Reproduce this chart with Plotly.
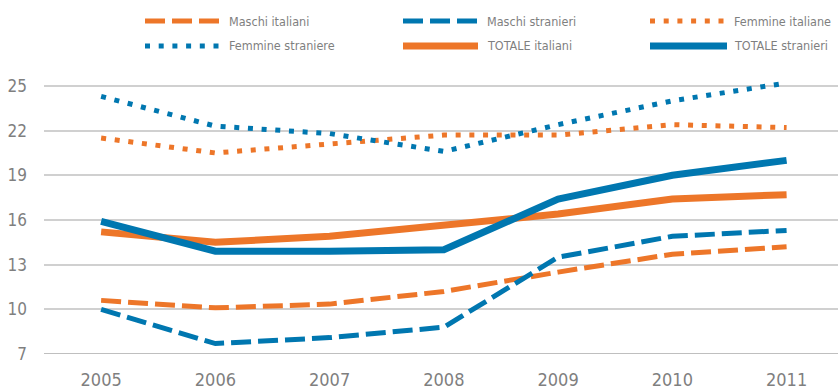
import plotly.graph_objects as go

# Age data by year and group
years = [2005, 2006, 2007, 2008, 2009, 2010, 2011]
maschi_italiani = [10.6, 10.1, 10.35, 11.2, 12.5, 13.7, 14.2]
maschi_stranieri = [10.0, 7.7, 8.1, 8.8, 13.5, 14.9, 15.3]
femmine_italiane = [21.5, 20.5, 21.1, 21.7, 21.7, 22.4, 22.2]
femmine_straniere = [24.3, 22.3, 21.8, 20.6, 22.4, 24.0, 25.2]
totale_italiani = [15.2, 14.5, 14.9, 15.7, 16.4, 17.4, 17.7]
totale_stranieri = [15.9, 13.9, 13.9, 14.0, 17.4, 19.0, 20.0]
y_ticks = [7, 10, 13, 16, 19, 22, 25]

ORANGE = "#ED7629"
BLUE = "#0077B0"
GREY_TEXT = "#7F7F7F"
FONT = "DejaVu Sans Condensed, Liberation Sans Narrow, sans-serif"

DASH = "20px,7px"
DOT = "5px,8.7px"

series = [
    ("Maschi italiani", maschi_italiani, ORANGE, DASH, 5),
    ("Maschi stranieri", maschi_stranieri, BLUE, DASH, 5),
    ("Femmine italiane", femmine_italiane, ORANGE, DOT, 5),
    ("Femmine straniere", femmine_straniere, BLUE, DOT, 5),
    ("TOTALE italiani", totale_italiani, ORANGE, "solid", 7),
    ("TOTALE stranieri", totale_stranieri, BLUE, "solid", 7),
]

W, H = 838, 392
ML, MR, MT, MB = 44, 0, 74, 38
PW, PH = W - ML - MR, H - MT - MB

fig = go.Figure()
for name, vals, color, dash, width in series:
    fig.add_trace(go.Scatter(
        x=years, y=vals, name=name, mode="lines",
        line=dict(color=color, dash=dash, width=width),
        cliponaxis=False, showlegend=False,
    ))


def px_x(x):
    return (x - ML) / PW


def px_y(y):
    return (H - MB - y) / PH


# Hand-built legend: three columns, two rows above the plot
legend_cols = [(145, 220, 227), (403, 478, 485), (650, 727, 732)]
legend_rows = [21, 46]
shapes = []
annotations = []
for i, (name, vals, color, dash, width) in enumerate(series):
    col = legend_cols[i % 3]
    row = legend_rows[i // 3]
    shapes.append(dict(
        type="line", xref="paper", yref="paper",
        x0=px_x(col[0]), x1=px_x(col[1]), y0=px_y(row), y1=px_y(row),
        line=dict(color=color, dash=dash, width=width),
    ))
    annotations.append(dict(
        text=name, xref="paper", yref="paper",
        x=px_x(col[2]), y=px_y(row), xanchor="left", yanchor="middle",
        showarrow=False, font=dict(family=FONT, size=12.5, color=GREY_TEXT),
    ))

fig.update_layout(
    width=W, height=H,
    margin=dict(l=ML, r=MR, t=MT, b=MB),
    paper_bgcolor="white", plot_bgcolor="white",
    shapes=shapes, annotations=annotations,
    showlegend=False,
    font=dict(family=FONT, color=GREY_TEXT),
)
fig.update_xaxes(
    range=[2004.5, 2011.45], tickvals=years,
    showgrid=False, zeroline=False,
    showline=False, ticks="",
    tickfont=dict(family=FONT, size=18, color=GREY_TEXT),
    ticklabelstandoff=13,
)
fig.update_yaxes(
    range=[7, 25.8], tickvals=y_ticks,
    showgrid=True, gridcolor="#D0D0D0", gridwidth=1.5,
    zeroline=False, showline=False, ticks="",
    tickfont=dict(family=FONT, size=17, color=GREY_TEXT),
    ticklabelstandoff=16,
)
# Darker base line along the bottom of the value axis
fig.add_shape(type="line", xref="paper", yref="y", x0=0, x1=1, y0=7, y1=7,
              line=dict(color="#BFBFBF", width=2), layer="below")

fig.write_html("out.html")
